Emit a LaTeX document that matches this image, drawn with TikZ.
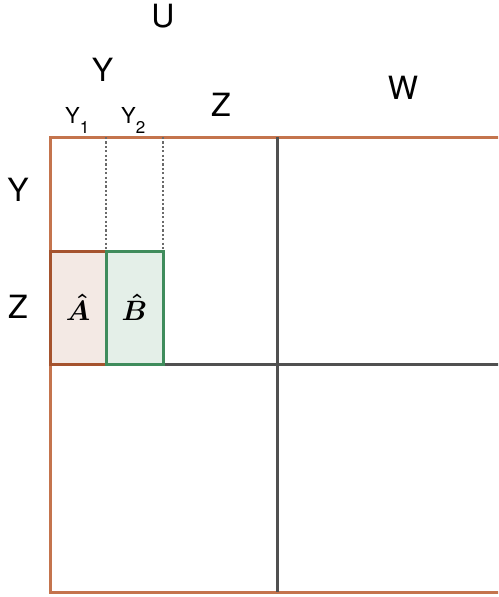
\documentclass[tikz,border=0pt]{standalone}
\usepackage{amsmath}
\usepackage{fontspec}
\setmainfont{TeX Gyre Heros}
\usepackage{xcolor}
\usepackage{graphicx}
\usepackage{tikz}
\usetikzlibrary{positioning}
\definecolor{Rust}{HTML}{C4744D}
\definecolor{DarkRust}{HTML}{A5532E}
\definecolor{Sage}{HTML}{3F8C5C}
\definecolor{PaleRust}{HTML}{F3E9E4}
\definecolor{PaleSage}{HTML}{E4EFE8}
\definecolor{Slate}{HTML}{505050}
\newcommand{\lowidx}[1]{\raisebox{-9.5pt}{\fontsize{17}{17}\selectfont #1}}
\newcommand{\blockname}[1]{\scalebox{2.8}{\normalsize$\boldsymbol{\hat{#1}}$}}

\begin{document}
\begin{tikzpicture}[x=1pt, y=-1pt, font=\fontsize{32}{32}\selectfont]
\tikzset{lbl/.style={inner sep=0pt}, sublbl/.style={inner sep=0pt, anchor=base west, font=\fontsize{22}{22}\selectfont}, frame/.style={draw=Rust, line width=3pt}, split/.style={draw=Slate, line width=3pt}, guide/.style={draw=Slate!85, line width=2.2pt, dash pattern=on 2.2pt off 2.2pt}, cell/.style={minimum height=113pt, inner sep=0pt, outer sep=0pt, line width=3pt}, rustcell/.style={cell, minimum width=56pt, draw=DarkRust, fill=PaleRust}, sagecell/.style={cell, minimum width=57pt, draw=Sage, fill=PaleSage}}
\useasboundingbox (0,0) rectangle (498,597);
\clip (0,0) rectangle (498,597);
% outer matrix
\draw[frame] (50,137) rectangle (505,592);
\draw[split] (277,137) -- (277,592);
\draw[split] (163,364) -- (505,364);
% sub-blocks
\node[rustcell] (a) at (78,307.5) {\blockname{A}};
\node[sagecell, right=0pt of a] (b) {\blockname{B}};
\coordinate (top1) at (a.north east |- 0,137);
\coordinate (top2) at (b.north east |- 0,137);
\draw[guide] (top1) -- (a.north east);
\draw[guide] (top2) -- (b.north east);
% labels
\node[lbl] (u) at (163,16.5) {U};
\node[lbl] (yy) at (102.5,70) {Y};
\node[lbl] (zz) at (221,105) {Z};
\node[lbl] (w) at (403,88) {W};
\node[sublbl] (y1) at (65,123.5) {Y\lowidx{1}};
\node[sublbl] (y2) at (121,123.5) {Y\lowidx{2}};
\node[lbl] (yl) at (18,190) {Y};
\node[lbl] (zl) at (18,307) {Z};
\end{tikzpicture}
\end{document}
